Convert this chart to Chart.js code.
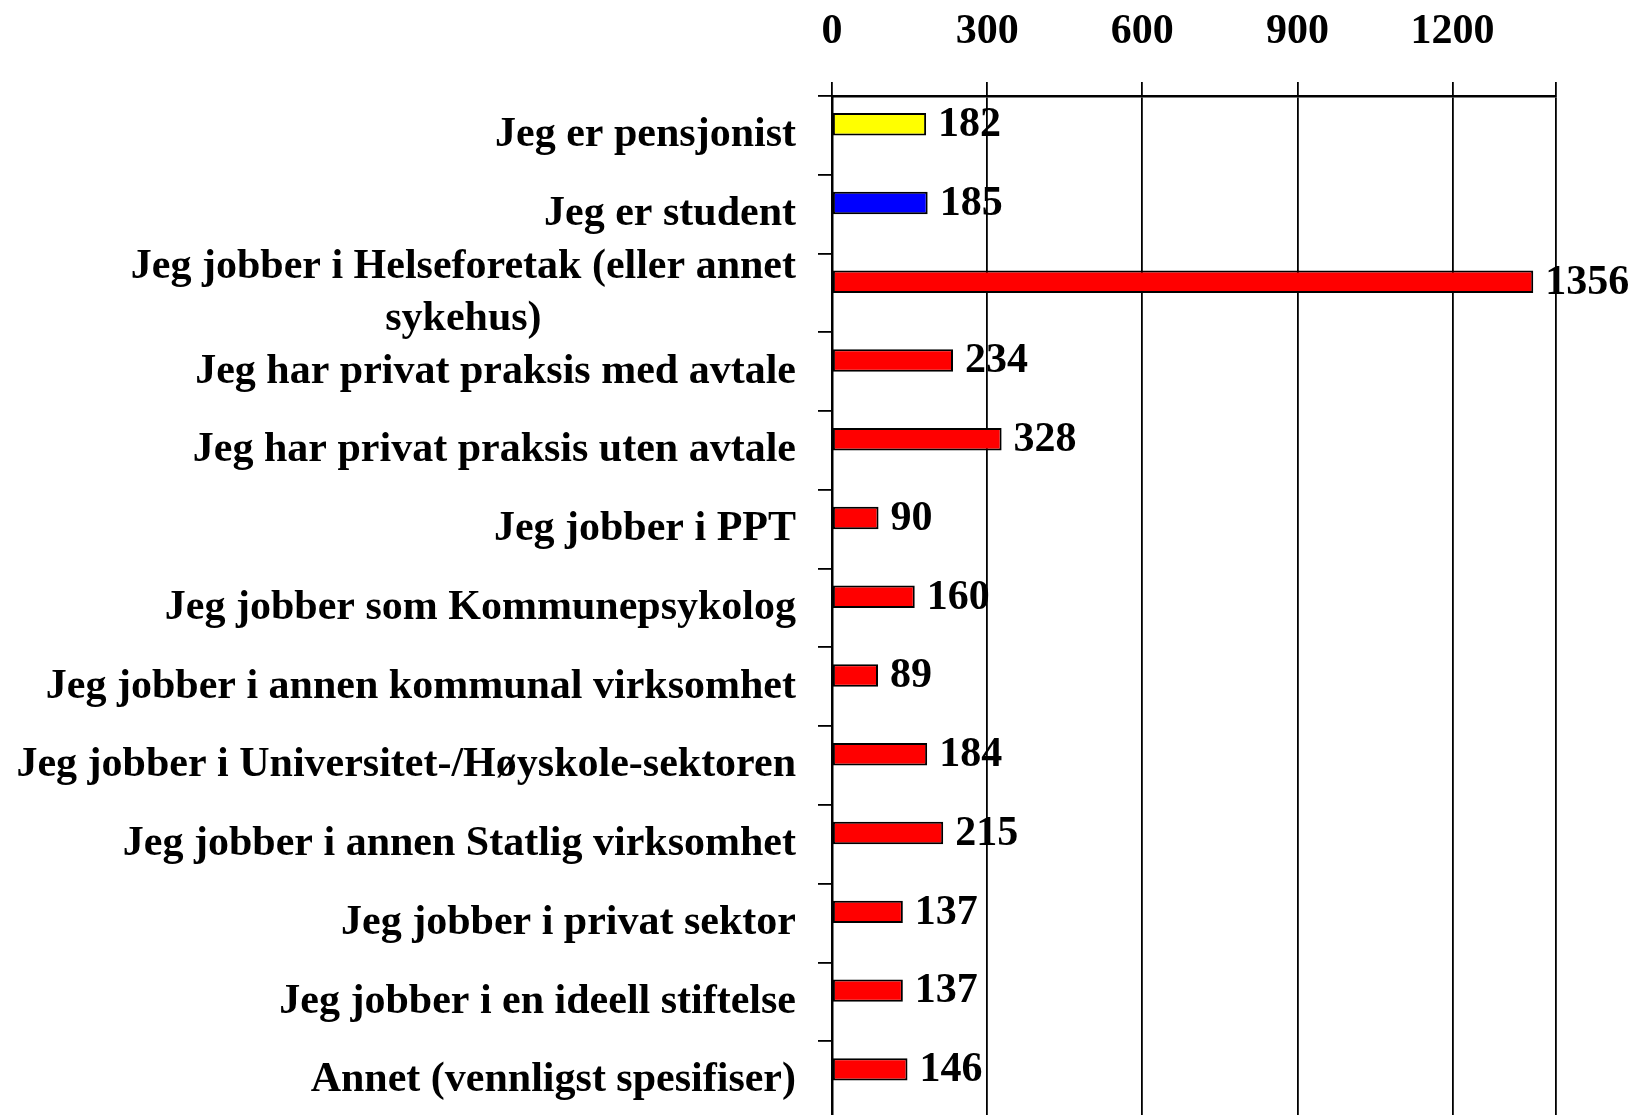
<!DOCTYPE html>
<html>
<head>
<meta charset="utf-8">
<script src="https://cdn.jsdelivr.net/npm/chart.js@4.4.1/dist/chart.umd.min.js"></script>
<style>
  html, body { margin: 0; padding: 0; background: #fff; overflow: hidden; }
  canvas { display: block; }
</style>
</head>
<body>
<canvas id="c" width="1635" height="1120"></canvas>
<script>
const categories = [
  'Jeg er pensjonist',
  'Jeg er student',
  ['Jeg jobber i Helseforetak (eller annet', 'sykehus)'],
  'Jeg har privat praksis med avtale',
  'Jeg har privat praksis uten avtale',
  'Jeg jobber i PPT',
  'Jeg jobber som Kommunepsykolog',
  'Jeg jobber i annen kommunal virksomhet',
  'Jeg jobber i Universitet-/Høyskole-sektoren',
  'Jeg jobber i annen Statlig virksomhet',
  'Jeg jobber i privat sektor',
  'Jeg jobber i en ideell stiftelse',
  'Annet (vennligst spesifiser)'
];
const values = [182, 185, 1356, 234, 328, 90, 160, 89, 184, 215, 137, 137, 146];
const barColors = ['#FFFF00', '#0000FF', '#FF0000', '#FF0000', '#FF0000', '#FF0000', '#FF0000',
                   '#FF0000', '#FF0000', '#FF0000', '#FF0000', '#FF0000', '#FF0000'];
// empty second series (as in the original spreadsheet chart) that reserves the lower slot
const emptySeries = [null, null, null, null, null, null, null, null, null, null, null, null, null];
const tickValues = [0, 300, 600, 900, 1200];
const axisMax = 1400;

const FONT = 'bold 42px "Liberation Serif", "Times New Roman", serif';

const labelPlugin = {
  id: 'labels',
  afterDraw(chart) {
    const ctx = chart.ctx;
    const yScale = chart.scales.y;
    ctx.save();
    ctx.font = FONT;
    ctx.fillStyle = '#000';
    ctx.textBaseline = 'middle';
    ctx.textAlign = 'center';
    const rightEdge = yScale.right - 36;
    const lineH = 52;
    categories.forEach((lab, i) => {
      const lines = Array.isArray(lab) ? lab : [lab];
      const w = Math.max(...lines.map(l => ctx.measureText(l).width));
      const cx = rightEdge - w / 2;
      const cy = yScale.getPixelForTick(i);
      lines.forEach((l, k) => {
        ctx.fillText(l, cx, cy + (k - (lines.length - 1) / 2) * lineH);
      });
    });
    // value labels
    const meta = chart.getDatasetMeta(0);
    ctx.textAlign = 'left';
    meta.data.forEach((el, i) => {
      ctx.fillText(String(values[i]), el.x + 12, el.y + 1);
    });
    ctx.restore();
  }
};

new Chart(document.getElementById('c'), {
  type: 'bar',
  data: {
    labels: categories,
    datasets: [
      {
        data: values,
        backgroundColor: barColors,
        borderColor: '#000',
        borderWidth: 2,
        borderSkipped: false,
        categoryPercentage: 0.57,
        barPercentage: 1.0
      },
      {
        data: emptySeries,
        backgroundColor: '#FF0000',
        borderColor: '#000',
        borderWidth: 0,
        categoryPercentage: 0.57,
        barPercentage: 1.0
      }
    ]
  },
  options: {
    indexAxis: 'y',
    responsive: false,
    animation: false,
    devicePixelRatio: 1,
    layout: { padding: { left: 0, right: 79, top: 0, bottom: 0 } },
    plugins: { legend: { display: false }, tooltip: { enabled: false } },
    scales: {
      x: {
        position: 'top',
        min: 0,
        max: axisMax,
        afterBuildTicks(axis) {
          axis.ticks = tickValues.concat([axisMax]).map(v => ({ value: v }));
        },
        afterFit(axis) { axis.height = 96; },
        ticks: {
          padding: 25,
          color: '#000',
          font: { family: '"Liberation Serif", "Times New Roman", serif', size: 42, weight: 'bold' },
          callback: (v) => tickValues.includes(v) ? String(v) : ''
        },
        grid: {
          color: '#000',
          lineWidth: 1.8,
          drawTicks: true,
          tickLength: 14
        },
        border: { display: true, color: '#000', width: 2.5 }
      },
      y: {
        afterFit(axis) { axis.width = 832; },
        ticks: { display: false },
        grid: {
          offset: true,
          drawOnChartArea: false,
          drawTicks: true,
          tickLength: 14,
          color: '#000',
          lineWidth: 1.8
        },
        border: { display: true, color: '#000', width: 2.5 }
      }
    }
  },
  plugins: [labelPlugin]
});
</script>
</body>
</html>
